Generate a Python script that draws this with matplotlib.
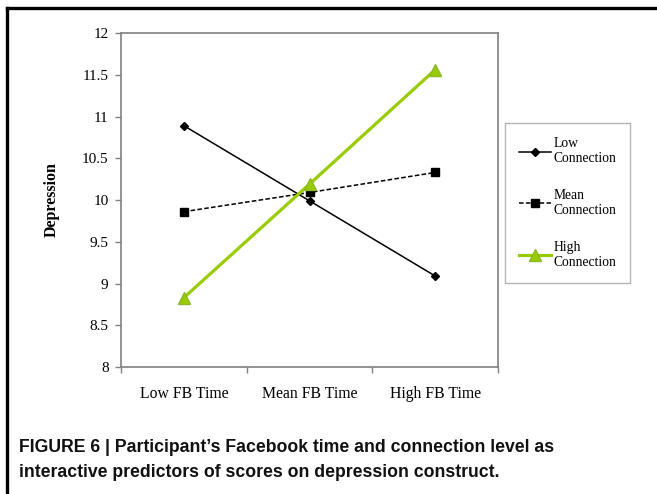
import numpy as np
import matplotlib.pyplot as plt
from matplotlib.lines import Line2D

# data
categories = ["Low FB Time", "Mean FB Time", "High FB Time"]
low_conn = [10.89, 9.99, 9.09]
mean_conn = [9.86, 10.09, 10.33]
high_conn = [8.83, 10.19, 11.56]
y_ticks = [8, 8.5, 9, 9.5, 10, 10.5, 11, 11.5, 12]

W, H = 657, 494
fig = plt.figure(figsize=(W / 100, H / 100), dpi=100)

def fx(px):
    return px / W

def fy(py):
    return 1 - py / H

ax = fig.add_axes([fx(121), fy(367), fx(498) - fx(121), fy(33) - fy(367)])

serif = "Liberation Serif"
gray = "#808080"
green = "#99CC00"

x = np.arange(len(categories))
ax.plot(x, low_conn, color="black", lw=1.1, marker="D", ms=4.5,
        label="Low\nConnection")
ax.plot(x, mean_conn, color="black", lw=1.1, ls=(0, (3, 1.5)), marker="s", ms=6,
        label="Mean\nConnection")
ax.plot(x, high_conn, color=green, lw=2.3, marker="^", ms=8,
        markeredgecolor="#8DB82A", label="High\nConnection")

ax.set_xlim(-0.5, 2.5)
ax.set_ylim(8, 12)
ax.set_yticks(y_ticks)
ax.set_yticklabels([f"{v:g}" for v in y_ticks], fontfamily=serif, fontsize=11)
ax.set_xticks([-0.5, 0.5, 1.5, 2.5])
ax.set_xticklabels([])
ax.set_xticks(x, minor=True)
ax.set_xticklabels(categories, minor=True, fontfamily=serif, fontsize=11.3)
ax.tick_params(axis="x", which="minor", length=0, pad=14)
ax.tick_params(axis="both", which="major", direction="out", length=4,
               color=gray, width=1)
ax.tick_params(axis="y", pad=5)

for s in ax.spines.values():
    s.set_color(gray)
    s.set_linewidth(1.2)

ax.set_ylabel("Depression", fontfamily=serif, fontsize=11.5, fontweight="bold",
              labelpad=16)

leg = ax.legend(loc="upper left", bbox_to_anchor=(fx(505), fy(123)),
                bbox_transform=fig.transFigure, frameon=True, fancybox=False,
                prop={"family": serif, "size": 9.8}, handlelength=2.3,
                labelspacing=1.75, borderpad=1.05, handletextpad=0.2,
                borderaxespad=0)
leg.get_frame().set_edgecolor("#A0A0A0")
leg.get_frame().set_linewidth(1.0)

# outer frame of the figure panel
fig.add_artist(Line2D([fx(7), 1], [fy(8), fy(8)], color="black", lw=2.4,
                      transform=fig.transFigure))
fig.add_artist(Line2D([fx(7), fx(7)], [fy(8), 0], color="black", lw=2.4,
                      transform=fig.transFigure))

cap_font = {"family": "Liberation Sans", "size": 12.7, "weight": "bold"}
fig.text(fx(19), fy(447), "FIGURE 6 | Participant\u2019s Facebook time and connection level as",
         fontdict=cap_font, va="center", ha="left", color="#111111")
fig.text(fx(19), fy(472), "interactive predictors of scores on depression construct.",
         fontdict=cap_font, va="center", ha="left", color="#111111")

fig.savefig("out.png", dpi=100)
